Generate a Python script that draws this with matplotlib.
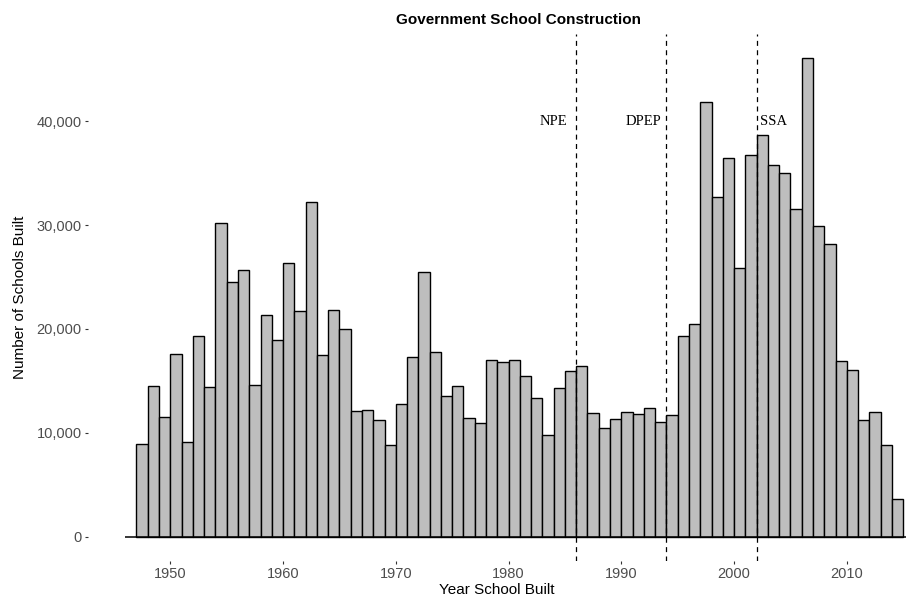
import numpy as np
import matplotlib.pyplot as plt

# schools built per year
years = np.arange(1947, 2015)
schools = [
    8900, 14500, 11570, 17630, 9100, 19330, 14390, 30220, 24520, 25640,
    14580, 21310, 18940, 26310, 21730, 32240, 17500, 21860, 19970, 12150,
    12240, 11250, 8880, 12820, 17340, 25480, 17820, 13530, 14550, 11470,
    10930, 17050, 16860, 17050, 15510, 13400, 9840, 14290, 15930, 16410,
    11960, 10480, 11380, 11990, 11790, 12370, 11090, 11700, 19290, 20510,
    41790, 32660, 36440, 25900, 36700, 38690, 35740, 35000, 31540, 46030,
    29900, 28170, 16960, 16090, 11220, 12020, 8880, 3650,
]

# policy markers
policy_years = [1986, 1994, 2002]
policy_labels = ['NPE', 'DPEP', 'SSA']
label_x = [1984, 1992, 2003.5]
label_y = 40000

plt.rcParams['font.family'] = ['Liberation Sans', 'DejaVu Sans']

fig = plt.figure(figsize=(9.06, 5.99), dpi=100)
ax = fig.add_axes([88 / 906, 0.0636, 1 - 88 / 906, 0.879])

ax.bar(years, schools, width=1, align='edge', color='#BEBEBE',
       edgecolor='black', linewidth=1.0, zorder=2)
ax.hlines(0, years[0] - 1, years[-1] + 3, color='black', linewidth=1.1, zorder=3)

for yr in policy_years:
    ax.axvline(yr, color='black', linestyle=(0, (4, 3.5)), linewidth=0.9, zorder=4)
for lx, lab in zip(label_x, policy_labels):
    ax.text(lx, label_y, lab, ha='center', va='center', fontsize=10.5,
            family='Liberation Serif', color='black', zorder=5)

ax.set_xlim(1942.7, 2015.25)
ax.set_ylim(-2300, 48330)
ax.set_xticks([1950, 1960, 1970, 1980, 1990, 2000, 2010])
ax.set_yticks([0, 10000, 20000, 30000, 40000])
ax.set_yticklabels(['0', '10,000', '20,000', '30,000', '40,000'])

for s in ax.spines.values():
    s.set_visible(False)
ax.tick_params(axis='both', length=2.5, width=0.8, color='#333333',
               labelcolor='#4D4D4D', labelsize=10.5, pad=2)

ax.set_xlabel('Year School Built', fontsize=11, labelpad=1)
ax.set_ylabel('Number of Schools Built', fontsize=11, labelpad=7)
fig.text(519 / 906, 1 - 20 / 599, 'Government School Construction',
         ha='center', va='center', fontsize=11, fontweight='bold')

fig.savefig('out.png', dpi=100)
